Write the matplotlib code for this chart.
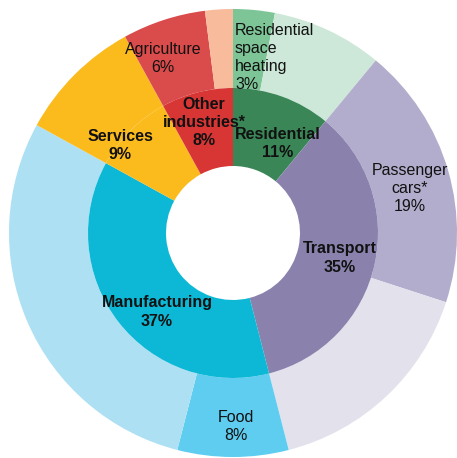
import matplotlib
matplotlib.use("Agg")
import matplotlib.pyplot as plt

plt.rcParams['font.family'] = ['Liberation Sans', 'DejaVu Sans']

# Inner ring: sectors
sectors = ['Residential', 'Transport', 'Manufacturing', 'Services', 'Other\nindustries*']
sector_pct = [11, 35, 37, 9, 8]
sector_colors = ['#3b8657', '#8a82ad', '#0cb8d5', '#fbbb1d', '#d83535']

# Outer ring: sub-sectors
sub_names = ['Residential\nspace\nheating', '', 'Passenger\ncars*', '', 'Food', '', '', 'Agriculture', '']
sub_pct = [3, 8, 19, 16, 8, 29, 9, 6, 2]
sub_colors = ['#7dc497', '#cde8d8', '#b2adcc', '#e3e1ec', '#5fcdf0', '#aee0f4', '#fbbb1d', '#da4b4b', '#f8bc9c']

# label anchor positions (pixels in the 457x458 image)
sector_label_px = [(278, 143), (340, 258), (157, 312), (120, 145), (204, 122)]
sub_label_px = [(235, 57), None, (410, 188), None, (236, 427), None, None, (163, 58), None]

W, H = 457, 458
cx, cy, R = 233, 233, 224

fig = plt.figure(figsize=(W / 100, H / 100), dpi=100)
ax = fig.add_axes([(cx - R) / W, (H - cy - R) / H, 2 * R / W, 2 * R / H])
ax.set_xlim(-1, 1)
ax.set_ylim(-1, 1)
ax.set_aspect('equal')
ax.axis('off')

r_mid = 145 / R
r_hole = 67 / R

ax.pie(sub_pct, radius=1.0, colors=sub_colors, startangle=90, counterclock=False,
       wedgeprops=dict(width=1.0 - r_mid, linewidth=0))
ax.pie(sector_pct, radius=r_mid, colors=sector_colors, startangle=90, counterclock=False,
       wedgeprops=dict(width=r_mid - r_hole, linewidth=0))
ax.set_xlim(-1, 1)
ax.set_ylim(-1, 1)


def to_data(p):
    return (p[0] - cx) / R, (cy - p[1]) / R


for name, pct, pos in zip(sectors, sector_pct, sector_label_px):
    x, y = to_data(pos)
    ax.text(x, y, f"{name}\n{pct}%", ha='center', va='center', fontsize=11.5,
            fontweight='bold', color='#111111', linespacing=1.25)

for name, pct, pos in zip(sub_names, sub_pct, sub_label_px):
    if pos is None or not name:
        continue
    x, y = to_data(pos)
    ha = 'left' if name.startswith('Residential') else 'center'
    ax.text(x, y, f"{name}\n{pct}%", ha=ha, va='center', fontsize=11.5,
            color='#111111', linespacing=1.25, multialignment=ha)

fig.savefig('out.png', dpi=100)
